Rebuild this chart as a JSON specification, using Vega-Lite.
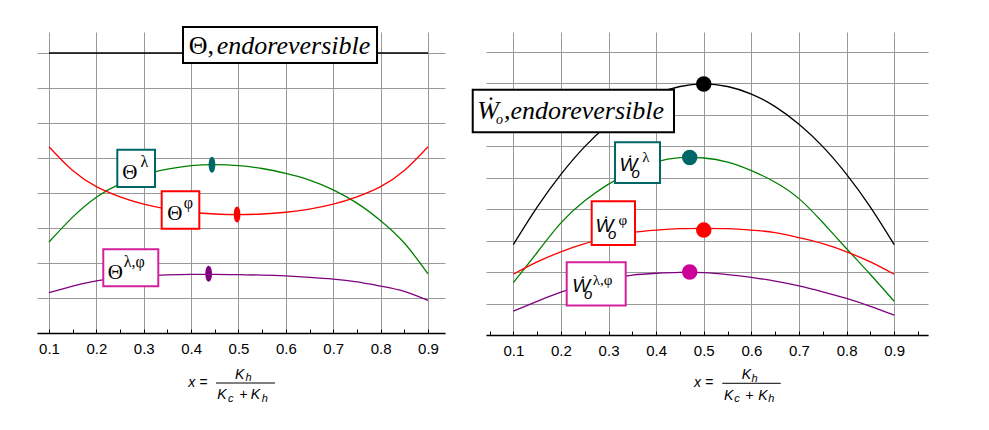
{
  "$schema": "https://vega.github.io/schema/vega-lite/v6.json",
  "background": "white",
  "padding": {"left": 37, "top": 25, "right": 10, "bottom": 10},
  "bounds": "flush",
  "spacing": 41,
  "config": {"view": {"stroke": null}},
  "datasets": {
    "curvesL": [
      {"x": 0.1, "y": 8.0, "s": "endo"}, {"x": 0.5, "y": 8.0, "s": "endo"}, {"x": 0.9, "y": 8.0, "s": "endo"},
      {"x": 0.1, "y": 2.60, "s": "lam"}, {"x": 0.15, "y": 3.31, "s": "lam"}, {"x": 0.2, "y": 3.88, "s": "lam"},
      {"x": 0.25, "y": 4.26, "s": "lam"}, {"x": 0.3, "y": 4.52, "s": "lam"}, {"x": 0.35, "y": 4.68, "s": "lam"},
      {"x": 0.4, "y": 4.78, "s": "lam"}, {"x": 0.45, "y": 4.81, "s": "lam"}, {"x": 0.5, "y": 4.78, "s": "lam"},
      {"x": 0.55, "y": 4.70, "s": "lam"}, {"x": 0.6, "y": 4.56, "s": "lam"}, {"x": 0.65, "y": 4.37, "s": "lam"},
      {"x": 0.7, "y": 4.09, "s": "lam"}, {"x": 0.75, "y": 3.71, "s": "lam"}, {"x": 0.8, "y": 3.21, "s": "lam"},
      {"x": 0.85, "y": 2.57, "s": "lam"}, {"x": 0.9, "y": 1.69, "s": "lam"},
      {"x": 0.1, "y": 5.32, "s": "phi"}, {"x": 0.15, "y": 4.64, "s": "phi"}, {"x": 0.2, "y": 4.18, "s": "phi"},
      {"x": 0.25, "y": 3.89, "s": "phi"}, {"x": 0.3, "y": 3.68, "s": "phi"}, {"x": 0.35, "y": 3.54, "s": "phi"},
      {"x": 0.4, "y": 3.45, "s": "phi"}, {"x": 0.45, "y": 3.40, "s": "phi"}, {"x": 0.5, "y": 3.385, "s": "phi"},
      {"x": 0.55, "y": 3.40, "s": "phi"}, {"x": 0.6, "y": 3.45, "s": "phi"}, {"x": 0.65, "y": 3.54, "s": "phi"},
      {"x": 0.7, "y": 3.68, "s": "phi"}, {"x": 0.75, "y": 3.89, "s": "phi"}, {"x": 0.8, "y": 4.18, "s": "phi"},
      {"x": 0.85, "y": 4.64, "s": "phi"}, {"x": 0.9, "y": 5.32, "s": "phi"},
      {"x": 0.1, "y": 1.15, "s": "lamphi"}, {"x": 0.15, "y": 1.34, "s": "lamphi"}, {"x": 0.2, "y": 1.49, "s": "lamphi"},
      {"x": 0.25, "y": 1.58, "s": "lamphi"}, {"x": 0.3, "y": 1.63, "s": "lamphi"}, {"x": 0.35, "y": 1.66, "s": "lamphi"},
      {"x": 0.4, "y": 1.675, "s": "lamphi"}, {"x": 0.45, "y": 1.675, "s": "lamphi"}, {"x": 0.5, "y": 1.665, "s": "lamphi"},
      {"x": 0.55, "y": 1.655, "s": "lamphi"}, {"x": 0.6, "y": 1.63, "s": "lamphi"}, {"x": 0.65, "y": 1.59, "s": "lamphi"},
      {"x": 0.7, "y": 1.54, "s": "lamphi"}, {"x": 0.75, "y": 1.46, "s": "lamphi"}, {"x": 0.8, "y": 1.34, "s": "lamphi"},
      {"x": 0.85, "y": 1.19, "s": "lamphi"}, {"x": 0.9, "y": 0.93, "s": "lamphi"}
    ],
    "marksL": [
      {"x": 0.444, "y": 4.81, "s": "lam"},
      {"x": 0.497, "y": 3.385, "s": "phi"},
      {"x": 0.437, "y": 1.69, "s": "lamphi"}
    ],
    "boxesL": [
      {"x": 0.3829, "x2": 0.7924, "y": 7.714, "y2": 8.743, "s": "endo"},
      {"x": 0.2442, "x2": 0.3238, "y": 4.171, "y2": 5.237, "s": "lam"},
      {"x": 0.3379, "x2": 0.4173, "y": 2.980, "y2": 4.049, "s": "phi"},
      {"x": 0.2146, "x2": 0.3307, "y": 1.334, "y2": 2.391, "s": "lamphi"}
    ],
    "fracL": [{"x": 0.4525, "x2": 0.5771, "y": -1.429}],
    "textL": [
      {"x": 0.3949, "y": 7.971, "t": "Θ,", "role": "headup"},
      {"x": 0.4540, "y": 7.971, "t": "endoreversible", "role": "head"},
      {"x": 0.2546, "y": 4.40, "t": "Θ", "role": "sym"},
      {"x": 0.3496, "y": 3.237, "t": "Θ", "role": "sym"},
      {"x": 0.2242, "y": 1.551, "t": "Θ", "role": "sym"},
      {"x": 0.2931, "y": 4.74, "t": "λ", "role": "sup"},
      {"x": 0.3845, "y": 3.58, "t": "φ", "role": "sup"},
      {"x": 0.2579, "y": 1.893, "t": "λ,φ", "role": "sup"},
      {"x": 0.3941, "y": -1.543, "t": "x =", "role": "title"},
      {"x": 0.4926, "y": -1.306, "t": "K", "role": "title"},
      {"x": 0.4553, "y": -1.894, "t": "K", "role": "title"},
      {"x": 0.5015, "y": -1.894, "t": "+", "role": "title"},
      {"x": 0.5258, "y": -1.894, "t": "K", "role": "title"},
      {"x": 0.5150, "y": -1.380, "t": "h", "role": "titlesub"},
      {"x": 0.4776, "y": -1.971, "t": "c", "role": "titlesub"},
      {"x": 0.5490, "y": -1.971, "t": "h", "role": "titlesub"}
    ],
    "curvesR": [
      {"x": 0.1, "y": 2.87, "s": "endo"}, {"x": 0.15, "y": 4.06, "s": "endo"}, {"x": 0.2, "y": 5.10, "s": "endo"},
      {"x": 0.25, "y": 5.98, "s": "endo"}, {"x": 0.3, "y": 6.69, "s": "endo"}, {"x": 0.35, "y": 7.25, "s": "endo"},
      {"x": 0.4, "y": 7.65, "s": "endo"}, {"x": 0.45, "y": 7.89, "s": "endo"}, {"x": 0.5, "y": 7.97, "s": "endo"},
      {"x": 0.55, "y": 7.89, "s": "endo"}, {"x": 0.6, "y": 7.65, "s": "endo"}, {"x": 0.65, "y": 7.25, "s": "endo"},
      {"x": 0.7, "y": 6.69, "s": "endo"}, {"x": 0.75, "y": 5.98, "s": "endo"}, {"x": 0.8, "y": 5.10, "s": "endo"},
      {"x": 0.85, "y": 4.06, "s": "endo"}, {"x": 0.9, "y": 2.87, "s": "endo"},
      {"x": 0.1, "y": 1.66, "s": "lam"}, {"x": 0.15, "y": 2.62, "s": "lam"}, {"x": 0.2, "y": 3.56, "s": "lam"},
      {"x": 0.25, "y": 4.26, "s": "lam"}, {"x": 0.3, "y": 4.79, "s": "lam"}, {"x": 0.35, "y": 5.20, "s": "lam"},
      {"x": 0.4, "y": 5.50, "s": "lam"}, {"x": 0.45, "y": 5.63, "s": "lam"}, {"x": 0.5, "y": 5.62, "s": "lam"},
      {"x": 0.55, "y": 5.49, "s": "lam"}, {"x": 0.6, "y": 5.22, "s": "lam"}, {"x": 0.65, "y": 4.85, "s": "lam"},
      {"x": 0.7, "y": 4.33, "s": "lam"}, {"x": 0.75, "y": 3.57, "s": "lam"}, {"x": 0.8, "y": 2.74, "s": "lam"},
      {"x": 0.85, "y": 1.92, "s": "lam"}, {"x": 0.9, "y": 1.07, "s": "lam"},
      {"x": 0.1, "y": 1.93, "s": "phi"}, {"x": 0.15, "y": 2.32, "s": "phi"}, {"x": 0.2, "y": 2.64, "s": "phi"},
      {"x": 0.25, "y": 2.90, "s": "phi"}, {"x": 0.3, "y": 3.09, "s": "phi"}, {"x": 0.35, "y": 3.25, "s": "phi"},
      {"x": 0.4, "y": 3.33, "s": "phi"}, {"x": 0.45, "y": 3.375, "s": "phi"}, {"x": 0.5, "y": 3.385, "s": "phi"},
      {"x": 0.55, "y": 3.375, "s": "phi"}, {"x": 0.6, "y": 3.33, "s": "phi"}, {"x": 0.65, "y": 3.25, "s": "phi"},
      {"x": 0.7, "y": 3.09, "s": "phi"}, {"x": 0.75, "y": 2.90, "s": "phi"}, {"x": 0.8, "y": 2.64, "s": "phi"},
      {"x": 0.85, "y": 2.32, "s": "phi"}, {"x": 0.9, "y": 1.93, "s": "phi"},
      {"x": 0.1, "y": 0.76, "s": "lamphi"}, {"x": 0.15, "y": 1.07, "s": "lamphi"}, {"x": 0.2, "y": 1.36, "s": "lamphi"},
      {"x": 0.25, "y": 1.60, "s": "lamphi"}, {"x": 0.3, "y": 1.77, "s": "lamphi"}, {"x": 0.35, "y": 1.90, "s": "lamphi"},
      {"x": 0.4, "y": 1.96, "s": "lamphi"}, {"x": 0.45, "y": 1.99, "s": "lamphi"}, {"x": 0.5, "y": 1.98, "s": "lamphi"},
      {"x": 0.55, "y": 1.92, "s": "lamphi"}, {"x": 0.6, "y": 1.83, "s": "lamphi"}, {"x": 0.65, "y": 1.71, "s": "lamphi"},
      {"x": 0.7, "y": 1.56, "s": "lamphi"}, {"x": 0.75, "y": 1.37, "s": "lamphi"}, {"x": 0.8, "y": 1.16, "s": "lamphi"},
      {"x": 0.85, "y": 0.91, "s": "lamphi"}, {"x": 0.9, "y": 0.63, "s": "lamphi"}
    ],
    "marksR": [
      {"x": 0.5, "y": 7.97, "s": "endo"},
      {"x": 0.4705, "y": 5.635, "s": "lam"},
      {"x": 0.5, "y": 3.33, "s": "phi"},
      {"x": 0.4705, "y": 2.0, "s": "lamphi"}
    ],
    "boxesR": [
      {"x": 0.0147, "x2": 0.4375, "y": 6.435, "y2": 7.79, "s": "endo"},
      {"x": 0.3136, "x2": 0.4081, "y": 4.825, "y2": 6.117, "s": "lam"},
      {"x": 0.2646, "x2": 0.3556, "y": 2.857, "y2": 4.244, "s": "phi"},
      {"x": 0.2121, "x2": 0.3360, "y": 0.933, "y2": 2.308, "s": "lamphi"}
    ],
    "fracR": [{"x": 0.5389, "x2": 0.6616, "y": -1.533}],
    "textR": [
      {"x": 0.0243, "y": 6.857, "t": "Ẇ", "role": "head"},
      {"x": 0.0804, "y": 6.857, "t": ",endoreversible", "role": "head"},
      {"x": 0.0636, "y": 6.689, "t": "o", "role": "headsub"},
      {"x": 0.3231, "y": 5.219, "t": "Ẇ", "role": "sym"},
      {"x": 0.2727, "y": 3.260, "t": "Ẇ", "role": "sym"},
      {"x": 0.2237, "y": 1.378, "t": "Ẇ", "role": "sym"},
      {"x": 0.3481, "y": 4.99, "t": "o", "role": "sub"},
      {"x": 0.2991, "y": 3.04, "t": "o", "role": "sub"},
      {"x": 0.2487, "y": 1.13, "t": "o", "role": "sub"},
      {"x": 0.3706, "y": 5.50, "t": "λ", "role": "sup"},
      {"x": 0.3209, "y": 3.50, "t": "φ", "role": "sup"},
      {"x": 0.2669, "y": 1.60, "t": "λ,φ", "role": "sup"},
      {"x": 0.4795, "y": -1.660, "t": "x =", "role": "title"},
      {"x": 0.5797, "y": -1.397, "t": "K", "role": "title"},
      {"x": 0.5425, "y": -2.051, "t": "K", "role": "title"},
      {"x": 0.5870, "y": -2.051, "t": "+", "role": "title"},
      {"x": 0.6146, "y": -2.051, "t": "K", "role": "title"},
      {"x": 0.6005, "y": -1.479, "t": "h", "role": "titlesub"},
      {"x": 0.5641, "y": -2.137, "t": "c", "role": "titlesub"},
      {"x": 0.6357, "y": -2.137, "t": "h", "role": "titlesub"}
    ]
  },
  "hconcat": [
    {
      "width": 408,
      "height": 301,
      "encoding": {
        "x": {
          "field": "x", "type": "quantitative",
          "scale": {"domain": [0.0747, 0.9359], "nice": false, "zero": false},
          "axis": {
            "values": [0.1, 0.15, 0.2, 0.25, 0.3, 0.35, 0.4, 0.45, 0.5, 0.55, 0.6, 0.65, 0.7, 0.75, 0.8, 0.85, 0.9],
            "format": ".1f",
            "labelExpr": "abs(datum.value * 10 - round(datum.value * 10)) < 0.01 ? datum.label : ''",
            "title": null,
            "grid": true,
            "gridColor": "#999999",
            "gridOpacity": {"condition": {"test": "abs(datum.value * 10 - round(datum.value * 10)) < 0.01", "value": 1}, "value": 0},
            "tickSize": -4, "tickColor": "black",
            "domainColor": "black", "domainWidth": 1.5,
            "labelFont": "Liberation Sans", "labelFontSize": 15, "labelColor": "black",
            "labelPadding": 12, "labelFlush": false, "labelOverlap": false
          }
        },
        "y": {
          "field": "y", "type": "quantitative",
          "scale": {"domain": [0, 8.6], "nice": false, "zero": false},
          "axis": {"values": [0, 1, 2, 3, 4, 5, 6, 7, 8], "grid": true, "gridColor": "#999999", "labels": false, "ticks": false, "domain": false, "title": null}
        }
      },
      "layer": [
        {
          "data": {"name": "curvesL"},
          "mark": {"type": "line", "interpolate": "natural", "strokeWidth": 1.3},
          "encoding": {"stroke": {"field": "s", "type": "nominal", "scale": {"domain": ["endo", "lam", "phi", "lamphi"], "range": ["#000000", "#008000", "#ff0000", "#800080"]}, "legend": null}}
        },
        {
          "data": {"name": "marksL"},
          "mark": {"type": "point", "filled": true, "opacity": 1, "size": 256, "shape": "M0,-1A0.42,1,0,1,1,0,1A0.42,1,0,1,1,0,-1Z"},
          "encoding": {"fill": {"field": "s", "type": "nominal", "scale": {"domain": ["lam", "phi", "lamphi"], "range": ["#006666", "#ff0000", "#800080"]}, "legend": null}}
        },
        {
          "data": {"name": "boxesL"},
          "mark": {"type": "rect", "fill": "white", "strokeWidth": 2},
          "encoding": {
            "x2": {"field": "x2"}, "y2": {"field": "y2"},
            "stroke": {"field": "s", "type": "nominal", "scale": {"domain": ["endo", "lam", "phi", "lamphi"], "range": ["#000000", "#006666", "#ff0000", "#d4209c"]}, "legend": null}
          }
        },
        {
          "data": {"name": "fracL"},
          "mark": {"type": "rule", "color": "black", "strokeWidth": 1},
          "encoding": {"x2": {"field": "x2"}}
        },
        {
          "data": {"name": "textL"},
          "transform": [{"filter": "datum.role == 'headup'"}],
          "mark": {"type": "text", "align": "left", "baseline": "alphabetic", "font": "Liberation Serif", "fontSize": 26, "fill": "black"},
          "encoding": {"text": {"field": "t"}}
        },
        {
          "data": {"name": "textL"},
          "transform": [{"filter": "datum.role == 'head'"}],
          "mark": {"type": "text", "align": "left", "baseline": "alphabetic", "font": "Liberation Serif", "fontStyle": "italic", "fontSize": 26, "fill": "black"},
          "encoding": {"text": {"field": "t"}}
        },
        {
          "data": {"name": "textL"},
          "transform": [{"filter": "datum.role == 'sym'"}],
          "mark": {"type": "text", "align": "left", "baseline": "alphabetic", "font": "Liberation Serif", "fontSize": 21, "fill": "black"},
          "encoding": {"text": {"field": "t"}}
        },
        {
          "data": {"name": "textL"},
          "transform": [{"filter": "datum.role == 'sup'"}],
          "mark": {"type": "text", "align": "left", "baseline": "alphabetic", "font": "Liberation Serif", "fontSize": 16, "fill": "black"},
          "encoding": {"text": {"field": "t"}}
        },
        {
          "data": {"name": "textL"},
          "transform": [{"filter": "datum.role == 'title'"}],
          "mark": {"type": "text", "align": "left", "baseline": "alphabetic", "font": "Liberation Sans", "fontStyle": "italic", "fontSize": 14, "fill": "black"},
          "encoding": {"text": {"field": "t"}}
        },
        {
          "data": {"name": "textL"},
          "transform": [{"filter": "datum.role == 'titlesub'"}],
          "mark": {"type": "text", "align": "left", "baseline": "alphabetic", "font": "Liberation Sans", "fontStyle": "italic", "fontSize": 11, "fill": "black"},
          "encoding": {"text": {"field": "t"}}
        }
      ],
      "resolve": {"scale": {"stroke": "independent", "fill": "independent"}}
    },
    {
      "width": 442,
      "height": 303,
      "encoding": {
        "x": {
          "field": "x", "type": "quantitative",
          "scale": {"domain": [0.0426, 0.971], "nice": false, "zero": false},
          "axis": {
            "values": [0.05, 0.1, 0.15, 0.2, 0.25, 0.3, 0.35, 0.4, 0.45, 0.5, 0.55, 0.6, 0.65, 0.7, 0.75, 0.8, 0.85, 0.9, 0.95],
            "format": ".1f",
            "labelExpr": "abs(datum.value * 10 - round(datum.value * 10)) < 0.01 ? datum.label : ''",
            "title": null,
            "grid": true,
            "gridColor": "#999999",
            "gridOpacity": {"condition": {"test": "abs(datum.value * 10 - round(datum.value * 10)) < 0.01", "value": 1}, "value": 0},
            "tickSize": -4, "tickColor": "black",
            "domainColor": "black", "domainWidth": 1.5,
            "labelFont": "Liberation Sans", "labelFontSize": 15, "labelColor": "black",
            "labelPadding": 12, "labelFlush": false, "labelOverlap": false
          }
        },
        "y": {
          "field": "y", "type": "quantitative",
          "scale": {"domain": [0, 9.62], "nice": false, "zero": false},
          "axis": {"values": [0, 1, 2, 3, 4, 5, 6, 7, 8, 9], "grid": true, "gridColor": "#999999", "labels": false, "ticks": false, "domain": false, "title": null}
        }
      },
      "layer": [
        {
          "data": {"name": "curvesR"},
          "mark": {"type": "line", "interpolate": "natural", "strokeWidth": 1.3},
          "encoding": {"stroke": {"field": "s", "type": "nominal", "scale": {"domain": ["endo", "lam", "phi", "lamphi"], "range": ["#000000", "#008000", "#ff0000", "#800080"]}, "legend": null}}
        },
        {
          "data": {"name": "marksR"},
          "mark": {"type": "point", "filled": true, "opacity": 1, "size": 240, "shape": "circle"},
          "encoding": {"fill": {"field": "s", "type": "nominal", "scale": {"domain": ["endo", "lam", "phi", "lamphi"], "range": ["#000000", "#006666", "#ff0000", "#cc0099"]}, "legend": null}}
        },
        {
          "data": {"name": "boxesR"},
          "mark": {"type": "rect", "fill": "white", "strokeWidth": 2},
          "encoding": {
            "x2": {"field": "x2"}, "y2": {"field": "y2"},
            "stroke": {"field": "s", "type": "nominal", "scale": {"domain": ["endo", "lam", "phi", "lamphi"], "range": ["#000000", "#006666", "#ff0000", "#d4209c"]}, "legend": null}
          }
        },
        {
          "data": {"name": "fracR"},
          "mark": {"type": "rule", "color": "black", "strokeWidth": 1},
          "encoding": {"x2": {"field": "x2"}}
        },
        {
          "data": {"name": "textR"},
          "transform": [{"filter": "datum.role == 'head'"}],
          "mark": {"type": "text", "align": "left", "baseline": "alphabetic", "font": "Liberation Serif", "fontStyle": "italic", "fontSize": 26, "fill": "black"},
          "encoding": {"text": {"field": "t"}}
        },
        {
          "data": {"name": "textR"},
          "transform": [{"filter": "datum.role == 'headsub'"}],
          "mark": {"type": "text", "align": "left", "baseline": "alphabetic", "font": "Liberation Serif", "fontStyle": "italic", "fontSize": 14, "fill": "black"},
          "encoding": {"text": {"field": "t"}}
        },
        {
          "data": {"name": "textR"},
          "transform": [{"filter": "datum.role == 'sym'"}],
          "mark": {"type": "text", "align": "left", "baseline": "alphabetic", "font": "Liberation Sans", "fontStyle": "italic", "fontSize": 19, "fill": "black"},
          "encoding": {"text": {"field": "t"}}
        },
        {
          "data": {"name": "textR"},
          "transform": [{"filter": "datum.role == 'sub'"}],
          "mark": {"type": "text", "align": "left", "baseline": "alphabetic", "font": "Liberation Sans", "fontStyle": "italic", "fontSize": 15, "fill": "black"},
          "encoding": {"text": {"field": "t"}}
        },
        {
          "data": {"name": "textR"},
          "transform": [{"filter": "datum.role == 'sup'"}],
          "mark": {"type": "text", "align": "left", "baseline": "alphabetic", "font": "Liberation Serif", "fontSize": 15, "fill": "black"},
          "encoding": {"text": {"field": "t"}}
        },
        {
          "data": {"name": "textR"},
          "transform": [{"filter": "datum.role == 'title'"}],
          "mark": {"type": "text", "align": "left", "baseline": "alphabetic", "font": "Liberation Sans", "fontStyle": "italic", "fontSize": 14, "fill": "black"},
          "encoding": {"text": {"field": "t"}}
        },
        {
          "data": {"name": "textR"},
          "transform": [{"filter": "datum.role == 'titlesub'"}],
          "mark": {"type": "text", "align": "left", "baseline": "alphabetic", "font": "Liberation Sans", "fontStyle": "italic", "fontSize": 11, "fill": "black"},
          "encoding": {"text": {"field": "t"}}
        }
      ],
      "resolve": {"scale": {"stroke": "independent", "fill": "independent"}}
    }
  ]
}
